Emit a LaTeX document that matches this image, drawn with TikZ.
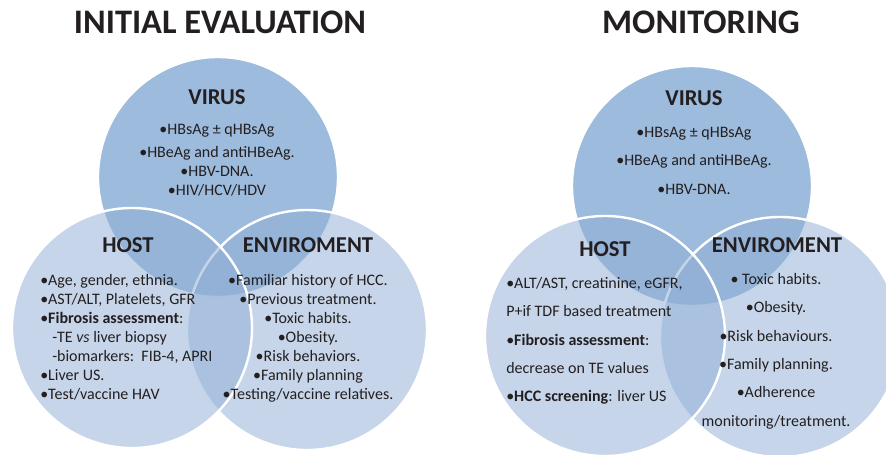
\documentclass[tikz,border=0pt]{standalone}
\usepackage{fontspec}
\setmainfont{Carlito}
\definecolor{virusBlue}{RGB}{157,187,221}
\definecolor{ringBlue}{RGB}{145,175,213}
\definecolor{inkDark}{HTML}{231F20}

\begin{document}
\begin{tikzpicture}[x=0.75pt, y=-0.75pt, text=inkDark,
    virus/.style={fill=virusBlue, draw=white, line width=1.8pt},
    ring/.style={fill=ringBlue, fill opacity=0.52, draw=white, line width=1.8pt},
    heading/.style={font=\fontsize{25.8}{30}\selectfont\bfseries},
    setname/.style={font=\fontsize{17}{20}\selectfont\bfseries},
    items/.style={font=\fontsize{12}{14.3}\selectfont, inner sep=0pt, align=center, anchor=north},
    wide/.style={font=\fontsize{12}{21.3}\selectfont}]
  \useasboundingbox (0,0) rectangle (886,454);
  \clip (0,0) rectangle (886,454);

  % initial evaluation: virus, then enviroment, then host on top
  \draw[virus] (218,177) circle (120);
  \draw[ring] (307,330) circle (120);
  \draw[ring] (132,328) circle (120);

  % monitoring
  \draw[virus] (692,186) circle (120);
  \draw[ring] (780,337) circle (120);
  \draw[ring] (605,336) circle (120);

  % titles
  \node[heading] (titleInit) at (220,22) {INITIAL EVALUATION};
  \node[heading] (titleMon) at (701,22) {MONITORING};

  % left set names
  \node[setname] (virusL) at (217,97) {VIRUS};
  \node[setname] (hostL) at (128,245) {HOST};
  \node[setname] (envL) at (308,245) {ENVIROMENT};

  \node[items] (virusItemsL) at (217,124)
    {•HBsAg ± qHBsAg\\[3pt] •HBeAg and antiHBeAg.\\ •HBV-DNA.\\ •HIV/HCV/HDV};
  \node[items, align=left, anchor=north west] (hostItemsL) at (40,274)
    {•Age, gender, ethnia.\\ •AST/ALT, Platelets, GFR\\
     •\textbf{Fibrosis assessment}:\\ \hspace*{9pt}-TE \textit{vs} liver biopsy\\
     \hspace*{9pt}-biomarkers:\ \ FIB-4, APRI\\ •Liver US.\\ •Test/vaccine HAV};
  \node[items] (envItemsL) at (308,274)
    {•Familiar history of HCC.\\ •Previous treatment.\\ •Toxic habits.\\ •Obesity.\\
     •Risk behaviors.\\ •Family planning\\ •Testing/vaccine relatives.};

  % right set names
  \node[setname] (virusR) at (694,98) {VIRUS};
  \node[setname] (hostR) at (605,249) {HOST};
  \node[setname] (envR) at (777,245) {ENVIROMENT};

  \node[items, wide] (virusItemsR) at (694,127)
    {•HBsAg ± qHBsAg\\ •HBeAg and antiHBeAg.\\ •HBV-DNA.};
  \node[items, wide, align=left, anchor=north west] (hostItemsR) at (506,277)
    {•ALT/AST, creatinine, eGFR,\\ P+if TDF based treatment\\
     •\textbf{Fibrosis assessment}:\\ decrease on TE values\\
     •\textbf{HCC screening}: liver US};
  \node[items, wide] (envItemsR) at (776,273)
    {• Toxic habits.\\ •Obesity.\\ •Risk behaviours.\\ •Family planning.\\
     •Adherence\\ monitoring/treatment.};
\end{tikzpicture}
\end{document}
